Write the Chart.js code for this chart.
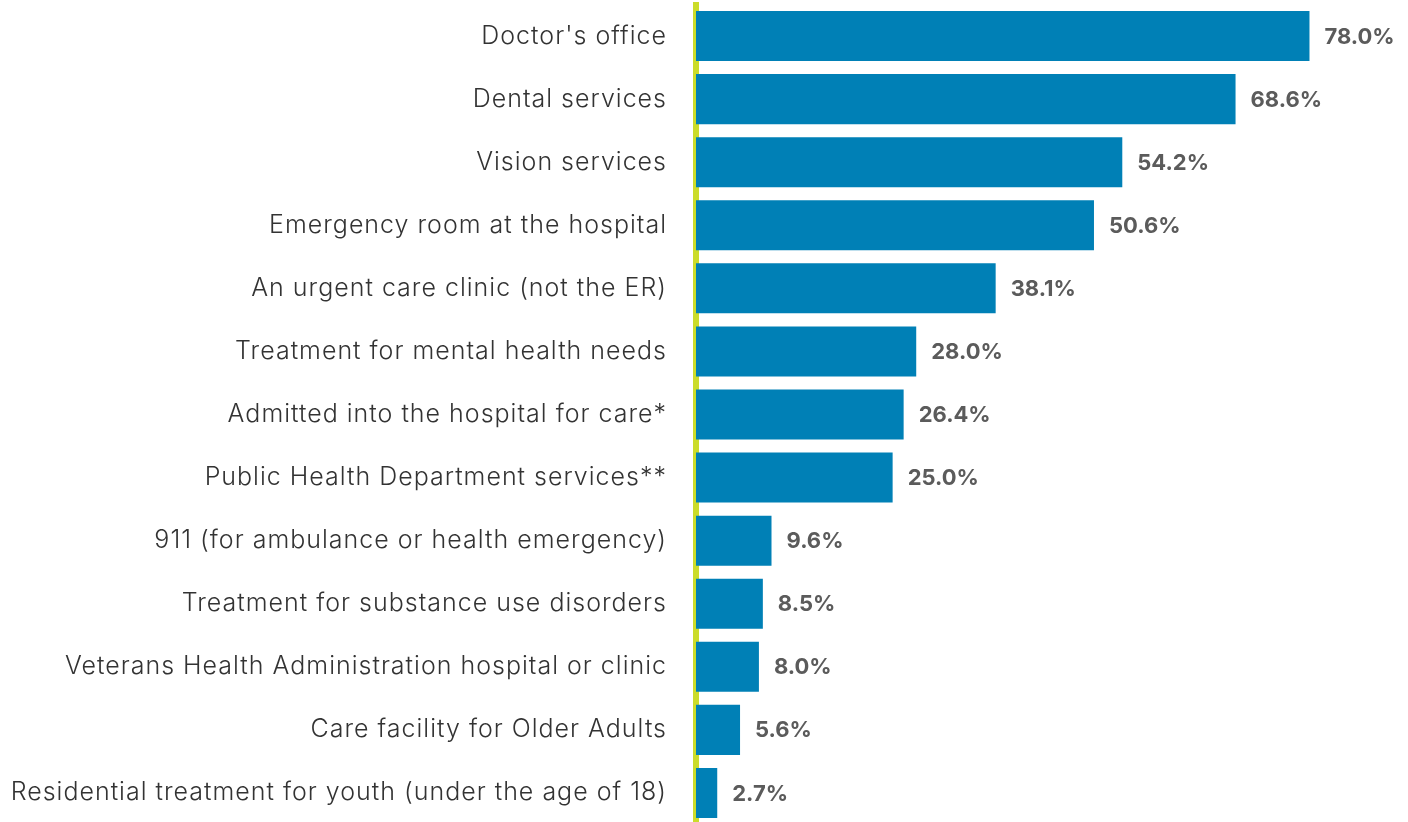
<!DOCTYPE html>
<html>
<head>
<meta charset="utf-8">
<script src="https://cdn.jsdelivr.net/npm/chart.js@4"></script>
<style>
html,body{margin:0;padding:0;background:#fff;}
#wrap{width:1408px;height:822px;position:relative;}
</style>
</head>
<body>
<div id="wrap"><canvas id="c" width="1408" height="822"></canvas></div>
<script>
const categories = [
  "Doctor's office",
  "Dental services",
  "Vision services",
  "Emergency room at the hospital",
  "An urgent care clinic (not the ER)",
  "Treatment for mental health needs",
  "Admitted into the hospital for care*",
  "Public Health Department services**",
  "911 (for ambulance or health emergency)",
  "Treatment for substance use disorders",
  "Veterans Health Administration hospital or clinic",
  "Care facility for Older Adults",
  "Residential treatment for youth (under the age of 18)"
];
const values = [78.0, 68.6, 54.2, 50.6, 38.1, 28.0, 26.4, 25.0, 9.6, 8.5, 8.0, 5.6, 2.7];

const spacing = {
  id: 'spacing',
  beforeDraw(chart) { chart.ctx.letterSpacing = '1px'; },
  beforeDatasetsDraw(chart) { chart.ctx.letterSpacing = '0px'; }
};

// extend the category band slightly below the canvas edge, as in the original
const extendArea = {
  id: 'extendArea',
  afterLayout(chart) {
    const y = chart.scales.y;
    y.bottom = 824.5;
    y.height = y.bottom - y.top;
    y.configure();
  }
};

const valueLabels = {
  id: 'valueLabels',
  afterDatasetsDraw(chart) {
    const ctx = chart.ctx;
    const meta = chart.getDatasetMeta(0);
    ctx.save();
    ctx.letterSpacing = '0px';
    ctx.font = 'bold 22px Inter';
    ctx.fillStyle = '#5b5b5b';
    ctx.textAlign = 'left';
    ctx.textBaseline = 'middle';
    meta.data.forEach((bar, i) => {
      ctx.fillText(values[i].toFixed(1) + '%', bar.x + 15, bar.y + 1);
    });
    ctx.restore();
  }
};

new Chart(document.getElementById('c'), {
  type: 'bar',
  data: {
    labels: categories,
    datasets: [{
      data: values,
      backgroundColor: '#0080b6',
      borderWidth: 0,
      barPercentage: 1,
      categoryPercentage: 0.793,
      clip: false
    }]
  },
  options: {
    indexAxis: 'y',
    responsive: false,
    animation: false,
    layout: { padding: { top: 4.5, bottom: 0, left: 0, right: 12 } },
    plugins: { legend: { display: false }, tooltip: { enabled: false } },
    scales: {
      x: {
        display: false,
        min: 0,
        max: 89
      },
      y: {
        afterFit(scale) { scale.width = 696; scale.paddingTop = 0; scale.paddingBottom = 0; },
        grid: { display: false, drawTicks: false },
        border: { display: true, color: '#cbdc2a', width: 6 },
        ticks: {
          padding: 29,
          color: '#333333',
          font: { family: 'Inter', size: 25, weight: '300' },
          autoSkip: false
        }
      }
    }
  },
  plugins: [spacing, extendArea, valueLabels]
});
</script>
</body>
</html>
